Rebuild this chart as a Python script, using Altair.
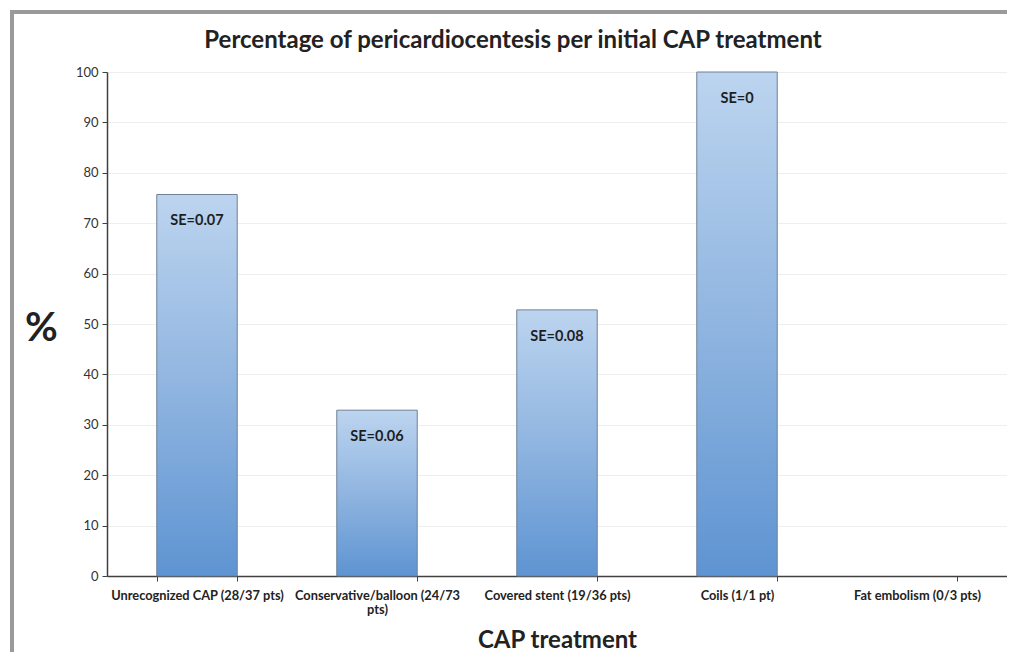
import altair as alt
import pandas as pd

categories = [
    "Unrecognized CAP (28/37 pts)",
    "Conservative/balloon (24/73 pts)",
    "Covered stent (19/36 pts)",
    "Coils (1/1 pt)",
    "Fat embolism (0/3 pts)",
]
percent = [75.7, 32.9, 52.8, 100.0, 0.0]
se_labels = ["SE=0.07", "SE=0.06", "SE=0.08", "SE=0", ""]
chart_title = "Percentage of pericardiocentesis per initial CAP treatment"

df = pd.DataFrame({"cat": categories, "pct": percent, "se": se_labels})

FONT = "Lato"

x_enc = alt.X(
    "cat:N",
    sort=categories,
    scale=alt.Scale(paddingInner=0.553, paddingOuter=0.2765),
    axis=alt.Axis(
        title="CAP treatment",
        titleFontSize=24,
        titleFontWeight="bold",
        titleColor="#222222",
        titlePadding=12,
        labelAngle=0,
        labelFontSize=12.8,
        labelFontWeight="bold",
        labelColor="#222222",
        labelPadding=8,
        labelLimit=300,
        labelExpr="datum.label == 'Conservative/balloon (24/73 pts)' ? ['Conservative/balloon (24/73', 'pts)'] : datum.label",
        tickBand="extent",
        tickSize=5,
        tickColor="#404040",
        domainColor="#404040",
        domainWidth=1.5,
        grid=False,
    ),
)

y_scale = alt.Scale(domain=[0, 100])

bars = alt.Chart(df).mark_bar(
    color=alt.Gradient(
        gradient="linear",
        stops=[
            alt.GradientStop(color="#bcd4ef", offset=0),
            alt.GradientStop(color="#90b5e0", offset=0.5),
            alt.GradientStop(color="#5e94d2", offset=1),
        ],
        x1=0, x2=0, y1=0, y2=1,
    ),
    stroke="#6f8096",
    strokeWidth=1,
).encode(
    x=x_enc,
    y=alt.Y(
        "pct:Q",
        scale=y_scale,
        axis=alt.Axis(
            title="%",
            titleAngle=0,
            titleFontSize=40,
            titleFontWeight="bold",
            titleColor="#222222",
            titleX=-66,
            titleY=256,
            titleAlign="center",
            titleBaseline="middle",
            values=list(range(0, 101, 10)),
            labelFontSize=13,
            labelColor="#333333",
            labelPadding=4,
            tickSize=5,
            tickColor="#404040",
            domainColor="#404040",
            domainWidth=1.5,
            gridColor="#eeeeee",
            gridWidth=1,
        ),
    ),
    strokeOpacity=alt.condition("datum.pct > 0", alt.value(1), alt.value(0)),
)

labels = alt.Chart(df).mark_text(
    font=FONT,
    fontSize=14.5,
    fontWeight="bold",
    color="#1e1e1e",
    baseline="middle",
    dy=27,
).encode(
    x=alt.X("cat:N", sort=categories),
    y=alt.Y("pct:Q", scale=y_scale),
    text="se:N",
)

title_df = pd.DataFrame({"t": [chart_title]})
title_mark = alt.Chart(title_df).mark_text(
    font=FONT,
    fontSize=24,
    fontWeight="bold",
    color="#222222",
    baseline="middle",
    align="center",
    clip=False,
).encode(
    x=alt.value(406),
    y=alt.value(-31),
    text="t:N",
)

frame_left = alt.Chart(df).mark_rule(color="#9a9a9a", strokeWidth=4, clip=False).encode(
    x=alt.value(-95), y=alt.value(-62), y2=alt.value(600)
)
frame_top = alt.Chart(df).mark_rule(color="#9a9a9a", strokeWidth=4, clip=False).encode(
    x=alt.value(-97), x2=alt.value(920), y=alt.value(-60)
)

chart = alt.layer(bars, labels, title_mark, frame_left, frame_top).properties(
    width=900,
    height=504,
    autosize=alt.AutoSizeParams(type="none"),
    padding={"left": 99, "top": 64, "right": 0, "bottom": 76},
).configure(font=FONT).configure_view(stroke=None).configure_axis(
    labelFont=FONT, titleFont=FONT
)

chart.save("out.html", embed_options={"renderer": "svg", "actions": False})
